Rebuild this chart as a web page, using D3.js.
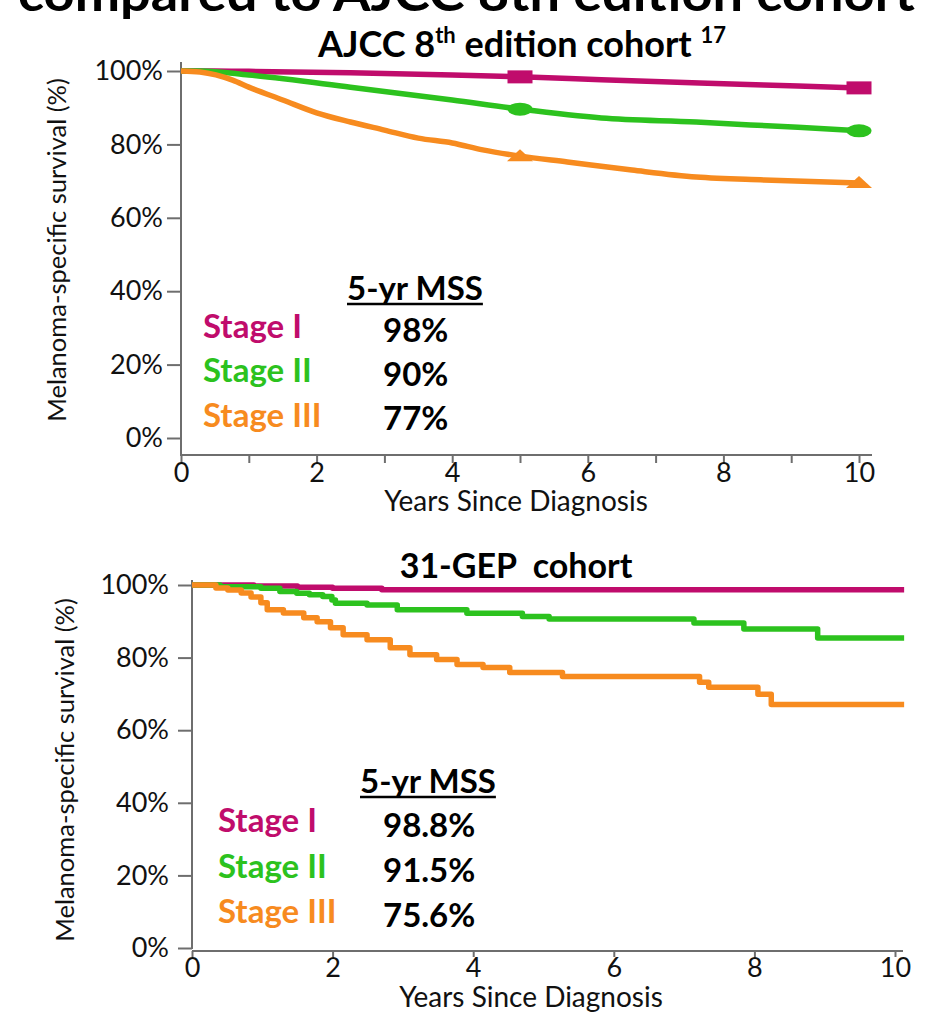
<!DOCTYPE html>
<html><head><meta charset="utf-8">
<script src="https://cdn.jsdelivr.net/npm/d3@7"></script>
<style>body{margin:0;background:#fff} svg{display:block} text{font-family:Lato,'Open Sans',sans-serif}</style>
</head><body><svg id="c" width="934" height="1021"></svg>
<script>
const stages = ["Stage I","Stage II","Stage III"];
const stageColors = ["#C00C6C","#2CC21E","#F78B1F"];
const yTickValues = [0,20,40,60,80,100];
const ajccMss = ["98%","90%","77%"];
const gepMss = ["98.8%","91.5%","75.6%"];
const markerYears = [5,10];

// AJCC 8th edition cohort (smooth curves) [years, survival %]
const ajccStageI = [[0,100],[0.5,100],[1,99.9],[2.5,99.5],[4,98.9],[5,98.4],[6.2,97.6],[7.65,96.7],[9.1,95.9],[10,95.4]];
const ajccStageII = [[0,100],[0.3,100],[1,98.9],[2.5,95.6],[4,92.1],[5,89.6],[6.2,87.2],[7.6,86.1],[8.4,85.3],[9.1,84.7],[10,83.7]];
const ajccStageIII = [[0,100],[0.28,99.7],[0.76,97.5],[1,95.6],[1.5,92.1],[2,88.6],[2.5,86.1],[3,83.9],[3.5,81.7],[4,80.4],[4.45,78.5],[5,76.8],[5.7,75.2],[6.65,73.0],[7.6,71.1],[8.6,70.3],[10,69.5]];

// 31-GEP cohort (Kaplan-Meier steps) [years, survival %]
const gepStageI = [[0,100],[0.88,99.7],[1.5,99.4],[2.0,99.1],[2.7,98.7],[10.13,98.7]];
const gepStageII = [[0,100],[0.40,99.5],[0.98,99.1],[1.25,98.2],[1.49,97.7],[1.67,97.3],[1.86,96.8],[1.99,95.9],[2.04,95.0],[2.49,94.5],[2.92,93.2],[3.91,92.2],[4.7,91.3],[5.08,90.6],[7.14,89.5],[7.85,87.9],[8.9,85.4],[10.13,85.4]];
const gepStageIII = [[0,100],[0.34,99.2],[0.51,98.6],[0.70,97.8],[0.84,96.7],[0.98,95.1],[1.07,93.2],[1.30,92.3],[1.59,91.0],[1.78,89.9],[1.97,88.2],[2.15,86.3],[2.49,84.9],[2.82,82.7],[3.10,80.8],[3.48,79.5],[3.77,78.1],[4.14,77.3],[4.52,75.9],[5.27,74.8],[7.22,73.2],[7.35,71.8],[8.05,69.9],[8.24,67.1],[10.13,67.1]];

const svg = d3.select("#c");
const axisColor = "#6e6e6e";
const tickFont = 27;

// cropped slide heading at the very top
svg.append("text").attr("x",18).attr("y",11).attr("font-size",50).attr("font-weight",700)
  .attr("textLength",897).attr("lengthAdjust","spacingAndGlyphs")
  .text("compared to AJCC 8th edition cohort");

function panel(o){
  const x = d3.scaleLinear().domain([0,10]).range(o.xr);
  const y = d3.scaleLinear().domain([0,100]).range(o.yr);
  const g = svg.append("g");

  const ya = g.append("g").attr("transform",`translate(${o.xr[0]},0)`)
    .call(d3.axisLeft(y).tickValues(yTickValues).tickFormat(d=>d+"%").tickSize(14).tickPadding(o.yPad).tickSizeOuter(0));
  ya.select(".domain").remove();
  ya.selectAll("line").attr("stroke",axisColor).attr("stroke-width",2);
  ya.selectAll("text").attr("font-size",tickFont).attr("fill","#111").attr("font-family","Lato,'Open Sans',sans-serif");
  g.append("line").attr("x1",o.xr[0]).attr("x2",o.xr[0]).attr("y1",o.yAxisTop).attr("y2",o.yAxisBottom)
    .attr("stroke",axisColor).attr("stroke-width",2);

  const xa = g.append("g").attr("transform",`translate(0,${o.xAxisY})`)
    .call(d3.axisBottom(x).tickValues(o.xTicks).tickFormat(d=>d%2===0?d:"").tickSize(o.xTickSize).tickPadding(o.xPad).tickSizeOuter(0));
  xa.select(".domain").remove();
  xa.selectAll("line").attr("stroke",axisColor).attr("stroke-width",2);
  xa.selectAll("text").attr("font-size",tickFont).attr("fill","#111").attr("font-family","Lato,'Open Sans',sans-serif");
  g.append("line").attr("x1",o.xr[0]).attr("x2",o.xAxisEnd).attr("y1",o.xAxisY).attr("y2",o.xAxisY)
    .attr("stroke",axisColor).attr("stroke-width",2);

  g.append("text").attr("x",o.xLabel[0]).attr("y",o.xLabel[1]).attr("text-anchor","middle").attr("font-size",28).attr("fill","#111")
    .text("Years Since Diagnosis");
  g.append("text").attr("transform",`translate(${o.yLabel[0]},${o.yLabel[1]}) rotate(-90)`).attr("text-anchor","middle")
    .attr("font-size",25.5).attr("fill","#111").text("Melanoma-specific survival (%)");

  o.title(g);

  const line = d3.line().x(d=>x(d[0])).y(d=>y(d[1])).curve(o.curve);
  o.series.forEach((s,i)=>{
    g.append("path").datum(s).attr("d",line).attr("fill","none").attr("stroke",stageColors[i])
      .attr("stroke-width",5.5).attr("stroke-linejoin","round");
  });

  const lg = g.append("g");
  const h = lg.append("text").attr("x",o.leg.hx).attr("y",o.leg.hy).attr("font-size",33).attr("font-weight",700).attr("fill","#000").text("5-yr MSS");
  const w = h.node().getComputedTextLength();
  lg.append("line").attr("x1",o.leg.hx).attr("x2",o.leg.hx+w).attr("y1",o.leg.hy+4).attr("y2",o.leg.hy+4).attr("stroke","#000").attr("stroke-width",2.5);
  stages.forEach((s,i)=>{
    lg.append("text").attr("x",o.leg.sx).attr("y",o.leg.sy[i]).attr("font-size",33).attr("font-weight",700).attr("fill",stageColors[i]).text(s);
    lg.append("text").attr("x",o.leg.vx).attr("y",o.leg.vy[i]).attr("font-size",33).attr("font-weight",700).attr("fill","#000").text(o.mss[i]);
  });
  return {x,y,g};
}

const ajccPanel = panel({
  xr:[181,859], yr:[438,71], yPad:4, yAxisTop:62, yAxisBottom:456, xAxisY:455, xAxisEnd:872,
  xTicks:d3.range(0,11), xTickSize:8, xPad:0, xLabel:[516,511], yLabel:[66,250],
  curve:d3.curveMonotoneX, series:[ajccStageI,ajccStageII,ajccStageIII], mss:ajccMss,
  leg:{hx:347,hy:300,sx:203,sy:[338,382,427],vx:383,vy:[342,386,430]},
  title:g=>{
    const t=g.append("text").attr("x",522).attr("y",57).attr("text-anchor","middle").attr("font-size",36).attr("font-weight",700).attr("fill","#000");
    t.append("tspan").text("AJCC 8");
    t.append("tspan").attr("font-size",22).attr("dy",-14).text("th");
    t.append("tspan").attr("dy",14).text(" edition cohort ");
    t.append("tspan").attr("font-size",22).attr("dy",-14).text("17");
  }
});

const mk = ajccPanel.g.append("g");
[ajccStageI,ajccStageII,ajccStageIII].forEach((s,i)=>{
  markerYears.forEach(yr=>{
    const v = s.find(d=>d[0]===yr)[1];
    const cx = ajccPanel.x(yr), cy = ajccPanel.y(v);
    if(i===0) mk.append("rect").attr("x",cx-12.5).attr("y",cy-6.5).attr("width",25).attr("height",13).attr("fill",stageColors[i]);
    if(i===1) mk.append("ellipse").attr("cx",cx).attr("cy",cy).attr("rx",12.5).attr("ry",6.5).attr("fill",stageColors[i]);
    if(i===2) mk.append("path").attr("d",`M${cx-13},${cy+5}L${cx},${cy-7}L${cx+13},${cy+5}Z`).attr("fill",stageColors[i]);
  });
});

panel({
  xr:[192,895], yr:[948,585], yPad:9, yAxisTop:580, yAxisBottom:949, xAxisY:951, xAxisEnd:903,
  xTicks:[0,2,4,6,8,10], xTickSize:6, xPad:1, xLabel:[531,1007], yLabel:[74,770],
  curve:d3.curveStepAfter, series:[gepStageI,gepStageII,gepStageIII], mss:gepMss,
  leg:{hx:360,hy:793,sx:218,sy:[832,878,923],vx:383,vy:[837,882,927]},
  title:g=>{
    g.append("text").attr("x",516).attr("y",578).attr("text-anchor","middle").attr("font-size",34).attr("font-weight",700).attr("fill","#000")
      .attr("xml:space","preserve").text("31-GEP  cohort");
  }
});
</script></body></html>
